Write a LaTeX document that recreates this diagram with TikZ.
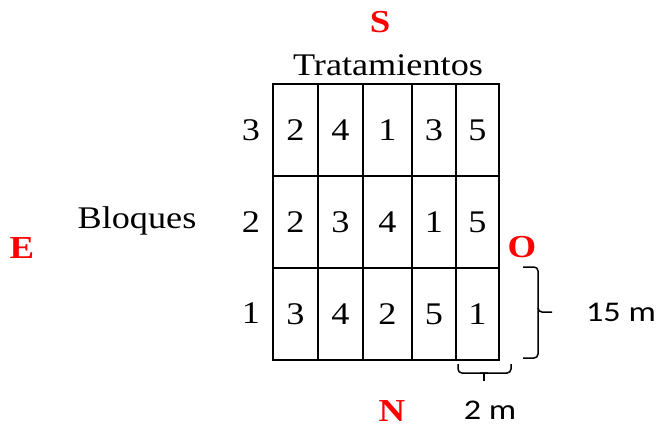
\documentclass[tikz,border=0pt]{standalone}
\usepackage{fontspec}
\setmainfont[FakeStretch=1.15]{Liberation Serif}
\newfontfamily\calib[FakeStretch=1.2]{Carlito}
\usetikzlibrary{positioning}

\begin{document}
\begin{tikzpicture}[x=1pt, y=-1pt,
 cell/.style={draw, line width=2.2pt, minimum width=#1, minimum height=92pt,
              inner sep=0pt, font=\fontsize{31.5}{36}\selectfont},
 lbl/.style={inner sep=0pt, font=\fontsize{31.5}{36}\selectfont},
 dir/.style={inner sep=0pt, text=red, font=\fontsize{32}{36}\selectfont\bfseries},
 dim/.style={inner sep=0pt, font=\fontsize{28.5}{32}\calib},
 brc/.style={line width=1.5pt, rounded corners=4pt},
]
 \useasboundingbox (0,0) rectangle (659,429);

 % block 3
 \node[cell=45pt] (c31) at (295.5,130) {2};
 \node[cell=45pt] (c32) at (340.5,130) {4};
 \node[cell=49pt] (c33) at (387.5,130) {1};
 \node[cell=44pt] (c34) at (434,130) {3};
 \node[cell=43pt] (c35) at (477.5,130) {5};
 % block 2
 \node[cell=45pt] (c21) at (295.5,222) {2};
 \node[cell=45pt] (c22) at (340.5,222) {3};
 \node[cell=49pt] (c23) at (387.5,222) {4};
 \node[cell=44pt] (c24) at (434,222) {1};
 \node[cell=43pt] (c25) at (477.5,222) {5};
 % block 1
 \node[cell=45pt] (c11) at (295.5,314) {3};
 \node[cell=45pt] (c12) at (340.5,314) {4};
 \node[cell=49pt] (c13) at (387.5,314) {2};
 \node[cell=44pt] (c14) at (434,314) {5};
 \node[cell=43pt] (c15) at (477.5,314) {1};

 \node[lbl] (b3) at (251,130) {3};
 \node[lbl] (b2) at (251,222) {2};
 \node[lbl] (b1) at (251,313) {1};
 \node[lbl] (trat) at (388,65) {Tratamientos};
 \node[lbl] (bloq) at (137,221) {Bloques};

 \node[dir] (sur) at (380,22) {S};
 \node[dir] (este) at (22,248) {E};
 \node[dir] (oeste) at (522,247) {O};
 \node[dir] (norte) at (392,411) {N};

 % dimensions
 \node[dim] (largo) at (621,312) {15 m};
 \node[dim] (ancho) at (490,410) {2 m};
 \draw[brc] (523,267) -| (538,312) -- (552,312);
 \draw[brc] (538,308) |- (523,358);
 \draw[brc] (458,364) |- (488,373);
 \draw[brc] (480,373) -| (511,364);
 \draw[line width=1.5pt] (484,373) -- (484,381);
\end{tikzpicture}
\end{document}
